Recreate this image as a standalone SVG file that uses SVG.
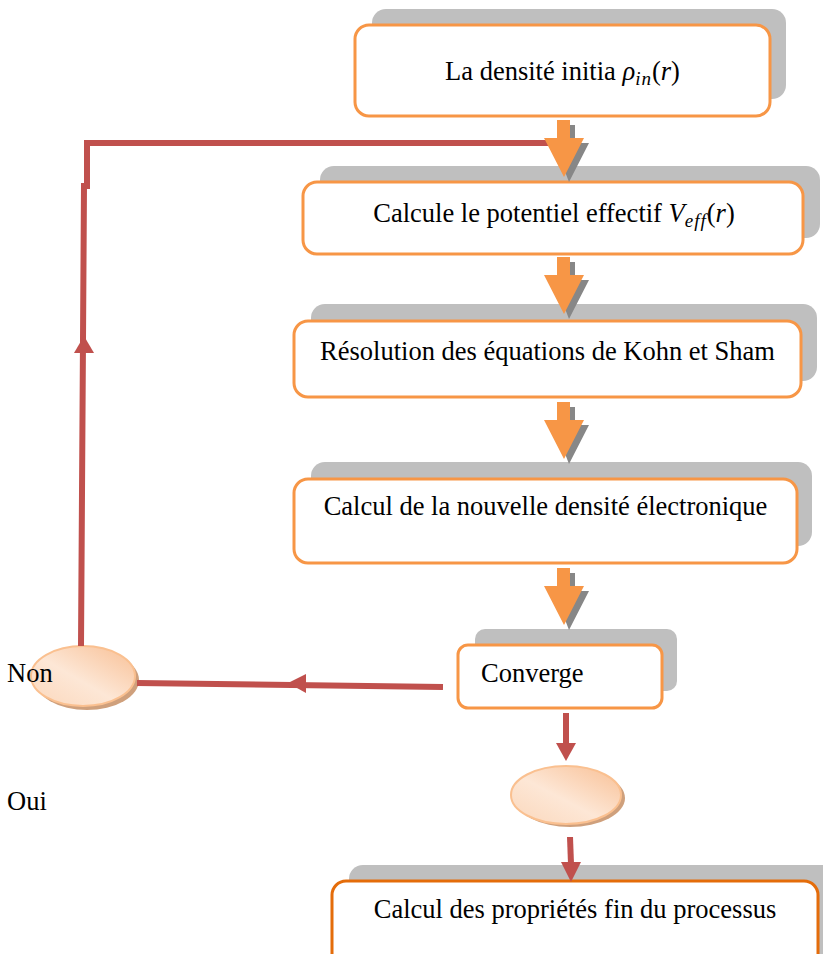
<svg xmlns="http://www.w3.org/2000/svg" width="823" height="954" viewBox="0 0 823 954">
<style>
.sh{fill:#bfbfbf}
.box{fill:#fff;stroke:#f79646;stroke-width:3}
.box2{fill:#fff;stroke:#e46c0a;stroke-width:3}
.t{font-family:"Liberation Serif","Times New Roman",serif;font-size:26.5px;fill:#000}
.m{font-style:italic}
.sub{font-style:italic;font-size:19px;font-variant-ligatures:none;letter-spacing:1px}
.red{fill:none;stroke:#c0504d;stroke-width:6}
.rh{fill:#c0504d}
.oa{fill:#f79646}
.ga{fill:#878787}
.ell{fill:url(#eg);stroke:#fac090;stroke-width:2}
.es{fill:#cfa07c}
</style>
<defs>
<linearGradient id="eg" x1="1" y1="0" x2="0" y2="1">
<stop offset="0" stop-color="#f8bf94"/>
<stop offset="0.55" stop-color="#fde7d6"/>
<stop offset="1" stop-color="#fbd7bb"/>
</linearGradient>
<g id="arr">
<polygon class="ga" points="-2,5 11,5 11,23 25,23 5,62 -10,23 -2,23"/>
<polygon class="oa" points="-7,0 6,0 6,18 20,18 0,57 -20,18 -7,18"/>
</g>
</defs>
<rect width="823" height="954" fill="#fff"/>

<g id="n1">
<rect class="sh" x="372" y="9" width="414" height="90" rx="14"/>
<rect class="box" x="355" y="25" width="415" height="91" rx="14"/>
<text class="t" x="562.5" y="80" text-anchor="middle">La densité initia <tspan class="m">ρ</tspan><tspan class="sub" dy="5">in</tspan><tspan dy="-5">(</tspan><tspan class="m">r</tspan>)</text>
</g>

<g id="n2">
<rect class="sh" x="320" y="166" width="500" height="72" rx="14"/>
<rect class="box" x="303" y="182" width="500" height="72" rx="14"/>
<text class="t" x="554" y="222" text-anchor="middle">Calcule le potentiel effectif <tspan class="m">V</tspan><tspan class="sub" dy="5">eff</tspan><tspan dy="-5">(</tspan><tspan class="m">r</tspan>)</text>
</g>

<g id="n3">
<rect class="sh" x="311" y="304" width="506" height="77" rx="14"/>
<rect class="box" x="294" y="321" width="507" height="76" rx="14"/>
<text class="t" x="547.5" y="360" text-anchor="middle">Résolution des équations de Kohn et Sham</text>
</g>

<g id="n4">
<rect class="sh" x="311" y="462" width="501" height="84" rx="14"/>
<rect class="box" x="294" y="479" width="503" height="84" rx="14"/>
<text class="t" x="545.5" y="515" text-anchor="middle">Calcul de la nouvelle densité électronique</text>
</g>

<g id="n5">
<rect class="sh" x="475" y="629" width="202" height="62" rx="10"/>
<rect class="box" x="458" y="645" width="204" height="63" rx="10"/>
<text class="t" x="481" y="682">Converge</text>
</g>

<g id="non">
<ellipse class="es" cx="87" cy="680" rx="52" ry="30"/>
<ellipse class="ell" cx="83" cy="676" rx="52" ry="30"/>
<text class="t" x="7" y="682">Non</text>
</g>

<g id="oui">
<ellipse class="es" cx="570" cy="798" rx="55" ry="29"/>
<ellipse class="ell" cx="566" cy="795" rx="55" ry="29"/>
<text class="t" x="7" y="810">Oui</text>
</g>

<g id="n6">
<rect class="sh" x="349" y="865" width="490" height="100" rx="14"/>
<rect class="box2" x="332" y="881" width="486" height="90" rx="14"/>
<text class="t" x="575" y="918" text-anchor="middle">Calcul des propriétés fin du processus</text>
</g>

<g id="connectors">
<path class="red" d="M81,646 L84,186 L87,186 L87,143 L556,143"/>
<polygon class="rh" points="84,336 74,353 94,353"/>
<path class="red" d="M443,687 L137,683"/>
<polygon class="rh" points="288,683 306,674 306,693"/>
<path class="red" d="M566,713 L566,744"/>
<polygon class="rh" points="556,743 576,743 566,761"/>
<path class="red" d="M570,837 L571,864"/>
<polygon class="rh" points="561,862 581,862 571,882"/>
<use href="#arr" x="564" y="120"/>
<use href="#arr" x="564" y="257"/>
<use href="#arr" x="564" y="402"/>
<use href="#arr" x="564" y="568"/>
</g>
</svg>
